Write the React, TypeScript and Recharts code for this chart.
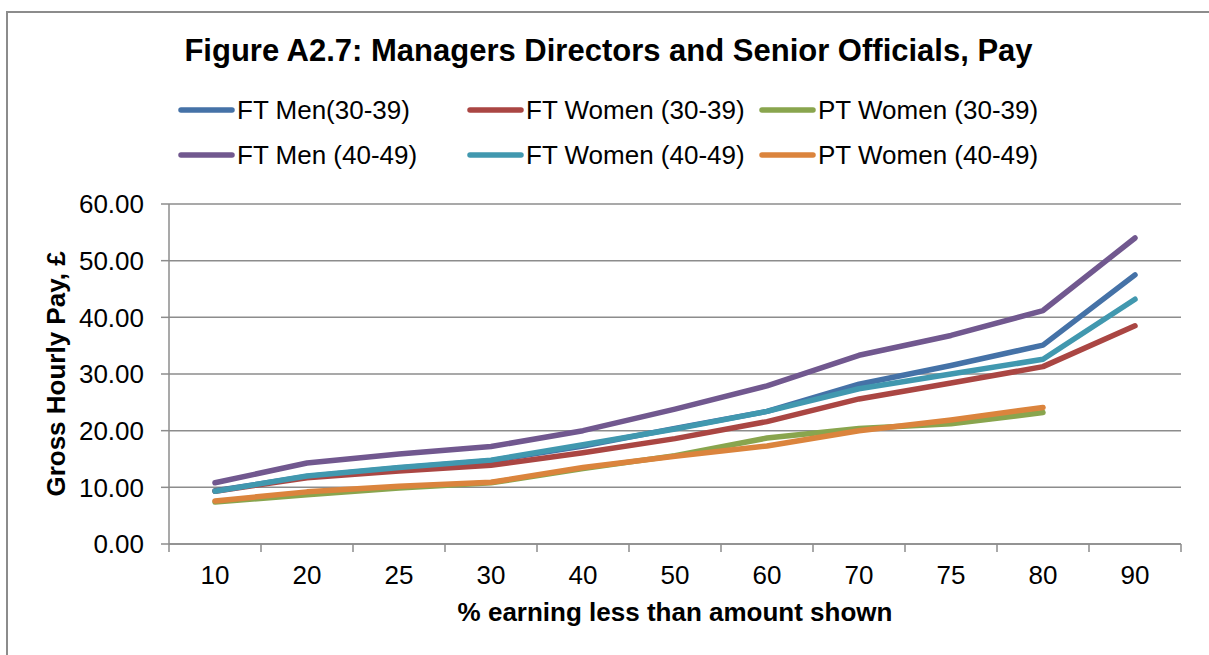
import React from "react";
import {
  LineChart,
  Line,
  CartesianGrid,
  XAxis,
  YAxis,
  Legend,
} from "recharts";

const FONT = "'Liberation Sans', Arial, sans-serif";
const GREY = "#8c8c8c";

// percentile categories on the x axis
const percentiles = ["10", "20", "25", "30", "40", "50", "60", "70", "75", "80", "90"];

// gross hourly pay, £
const ftMen3039 = [9.4, 11.9, 13.4, 14.7, 17.3, 20.4, 23.4, 28.2, 31.5, 35.1, 47.5];
const ftWomen3039 = [9.3, 11.7, 12.9, 13.9, 16.1, 18.6, 21.6, 25.6, 28.4, 31.3, 38.5];
const ptWomen3039 = [7.4, 8.7, 9.9, 10.8, 13.3, 15.6, 18.7, 20.4, 21.2, 23.2, null];
const ftMen4049 = [10.8, 14.3, 15.9, 17.2, 20.0, 23.8, 27.9, 33.3, 36.8, 41.2, 54.0];
const ftWomen4049 = [9.3, 12.0, 13.5, 14.8, 17.5, 20.3, 23.4, 27.4, 30.0, 32.6, 43.2];
const ptWomen4049 = [7.6, 9.2, 10.2, 10.9, 13.5, 15.5, 17.3, 20.0, 21.9, 24.1, null];

const yTicks = [0, 10, 20, 30, 40, 50, 60];

const series = [
  { key: "ftMen3039", name: "FT Men(30-39)", color: "#4572A7", values: ftMen3039 },
  { key: "ftWomen3039", name: "FT Women (30-39)", color: "#AA4643", values: ftWomen3039 },
  { key: "ptWomen3039", name: "PT Women (30-39)", color: "#89A54E", values: ptWomen3039 },
  { key: "ftMen4049", name: "FT Men (40-49)", color: "#71588F", values: ftMen4049 },
  { key: "ftWomen4049", name: "FT Women (40-49)", color: "#4198AF", values: ftWomen4049 },
  { key: "ptWomen4049", name: "PT Women (40-49)", color: "#DB843D", values: ptWomen4049 },
];

const data = percentiles.map((pct, i) => {
  const row: any = { pct };
  series.forEach((s) => (row[s.key] = s.values[i]));
  return row;
});

const BAND = 92;

function XTick(props: any) {
  const { x, y, payload, index } = props;
  return (
    <g>
      <line x1={x - BAND / 2} x2={x - BAND / 2} y1={y} y2={y + 8} stroke={GREY} strokeWidth={1.5} />
      {index === percentiles.length - 1 && (
        <line x1={x + BAND / 2} x2={x + BAND / 2} y1={y} y2={y + 8} stroke={GREY} strokeWidth={1.5} />
      )}
      <text x={x} y={y + 40} textAnchor="middle" fontSize={26} fontFamily={FONT} fill="#000">
        {payload.value}
      </text>
    </g>
  );
}

function LegendBox(props: any) {
  const cols = [179, 468, 760];
  const rows = [110, 155];
  const items = props.payload || [];
  // keep the series order (recharts sorts the payload by name)
  const ordered = series
    .map((s) => items.find((it: any) => it.value === s.name))
    .filter(Boolean);
  return (
    <svg width={1209} height={180}>
      {ordered.map((it: any, i: number) => {
        const x = cols[i % 3];
        const y = rows[Math.floor(i / 3)];
        return (
          <g key={it.value}>
            <line x1={x + 2} x2={x + 53} y1={y} y2={y} stroke={it.color} strokeWidth={5.5} strokeLinecap="round" />
            <text x={x + 58} y={y + 9} fontSize={26} fontFamily={FONT} fill="#000">
              {it.value}
            </text>
          </g>
        );
      })}
    </svg>
  );
}

export default function App() {
  return (
    <div style={{ position: "fixed", left: 0, top: 0, width: 1209, height: 655, overflow: "hidden", background: "#fff" }}>
      <div
        style={{
          position: "absolute",
          left: 6,
          top: 11,
          right: 0,
          bottom: 0,
          borderTop: `2px solid ${GREY}`,
          borderLeft: `2px solid ${GREY}`,
        }}
      />
      <div
        style={{
          position: "absolute",
          left: 4,
          top: 35,
          width: 1209,
          textAlign: "center",
          fontFamily: FONT,
          fontWeight: "bold",
          fontSize: 31,
          lineHeight: "31px",
          color: "#000",
        }}
      >
        Figure A2.7: Managers Directors and Senior Officials, Pay
      </div>
      <div style={{ position: "absolute", left: 0, top: 0 }}>
        <LineChart width={1209} height={655} data={data} margin={{ top: 204, right: 28, left: 0, bottom: 0 }}>
          <CartesianGrid vertical={false} stroke={GREY} strokeWidth={1.5} />
          <XAxis
            dataKey="pct"
            height={111}
            padding={{ left: BAND / 2, right: BAND / 2 }}
            tickLine={false}
            tickSize={0}
            tickMargin={0}
            interval={0}
            axisLine={{ stroke: GREY, strokeWidth: 1.5 }}
            tick={<XTick />}
            label={{
              content: (p: any) => (
                <text x={p.viewBox.x + p.viewBox.width / 2} y={p.viewBox.y + 77} textAnchor="middle" fontSize={26} fontWeight="bold" fontFamily={FONT} fill="#000">
                  % earning less than amount shown
                </text>
              ),
            }}
          />
          <YAxis
            width={169}
            domain={[0, 60]}
            ticks={yTicks}
            interval={0}
            tickFormatter={(v: number) => v.toFixed(2)}
            tickSize={8}
            tickMargin={17}
            tickLine={{ stroke: GREY, strokeWidth: 1.5 }}
            axisLine={{ stroke: GREY, strokeWidth: 1.5 }}
            tick={{ fontSize: 26, fill: "#000", fontFamily: FONT }}
            label={{
              content: (p: any) => {
                const cy = p.viewBox.y + p.viewBox.height / 2;
                return (
                  <text x={65} y={cy} transform={`rotate(-90 65 ${cy})`} textAnchor="middle" fontSize={26} fontWeight="bold" fontFamily={FONT} fill="#000">
                    Gross Hourly Pay, £
                  </text>
                );
              },
            }}
          />
          <Legend
            layout="vertical"
            align="center"
            verticalAlign="middle"
            wrapperStyle={{ position: "absolute", top: 0, left: 0, width: 1209, height: 180 }}
            content={<LegendBox />}
          />
          {series.map((s) => (
            <Line
              key={s.key}
              type="linear"
              dataKey={s.key}
              name={s.name}
              stroke={s.color}
              strokeWidth={5.5}
              strokeLinecap="round"
              strokeLinejoin="round"
              dot={false}
              activeDot={false}
              isAnimationActive={false}
            />
          ))}
        </LineChart>
      </div>
    </div>
  );
}
